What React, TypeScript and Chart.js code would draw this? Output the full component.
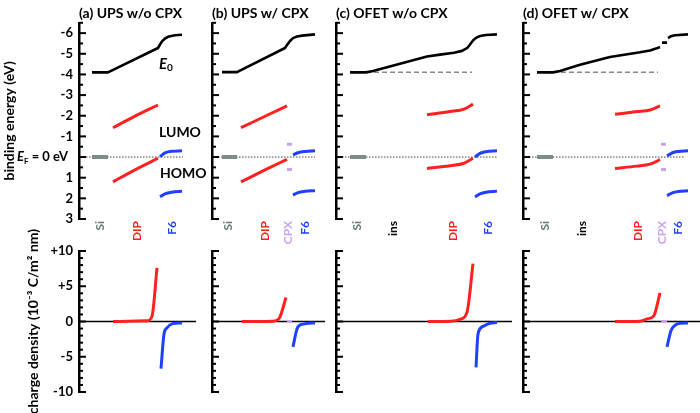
import React, { useEffect, useRef } from 'react';
import { Chart, registerables } from 'chart.js';
Chart.register(...registerables);

type P = [number, number][];

const FONT = 'Lato, "Open Sans", sans-serif';
const RED = '#ff2020';
const BLUE = '#2040ff';
const PURPLE = '#c9a3f0';
const SIGRAY = '#7f8c8c';
const SILABEL = '#667b7b';
const DASHGRAY = '#7f8f8f';

// ---- axis ticks ----
const energyTicks = [-6, -5, -4, -3, -2, -1, 0, 1, 2, 3];
const energyTickLabels = ['-6', '-5', '-4', '-3', '-2', '-1', '', '1', '2', '3'];
const energyMinor = [-6.5, -5.5, -4.5, -3.5, -2.5, -1.5, -0.5, 0.5, 1.5, 2.5];
const chargeTicks = [10, 5, 0, -5, -10];
const chargeTickLabels = ['+10', '+5', '0', '-5', '-10'];
const chargeMinor = [9, 8, 7, 6, 4, 3, 2, 1, -1, -2, -3, -4, -6, -7, -8, -9];

// ---- panel (a) UPS w/o CPX ----
const aLayers = ['Si', 'DIP', 'F6'];
const aLayerPos = [21, 58, 93];
const aSi: P = [[13, 0], [29, 0]];
const aE0: P = [[13, -4.1], [29, -4.1], [79, -5.28], [81, -5.45], [83, -5.6], [86, -5.74], [90, -5.84], [96, -5.9], [103, -5.92]];
const aLumo: P = [[34, -1.42], [56, -1.98], [79, -2.52]];
const aHomo: P = [[34, 1.2], [56, 0.62], [79, 0.06]];
const aF6Lumo: P = [[81, -0.02], [86, -0.2], [93, -0.28], [103, -0.3]];
const aF6Homo: P = [[81, 1.92], [86, 1.78], [93, 1.7], [103, 1.66]];
const aEF: P = [[1, 0], [104, 0]];
const aQDip: P = [[34, 0], [68, 0.1], [73, 0.75], [78, 7.6]];
const aQF6: P = [[82, -6.7], [85, -1.76], [88, -0.9], [93, -0.33], [103, -0.2]];
const aZero: P = [[0, 0], [117, 0]];

// ---- panel (b) UPS w/ CPX ----
const bLayers = ['Si', 'DIP', 'CPX', 'F6'];
const bLayerPos = [16, 53, 76, 93];
const bSi: P = [[10, 0], [25, 0]];
const bE0: P = [[10, -4.11], [25, -4.11], [73, -5.28], [75, -5.42], [78, -5.62], [81, -5.76], [85, -5.84], [90, -5.88], [103, -5.94]];
const bLumo: P = [[29, -1.42], [52, -1.95], [75, -2.48]];
const bHomo: P = [[29, 1.2], [52, 0.65], [75, 0.11]];
const bCpxLumo: P = [[75, -0.62], [80, -0.62]];
const bCpxHomo: P = [[75, 0.6], [80, 0.6]];
const bF6Lumo: P = [[81, -0.1], [86, -0.21], [93, -0.27], [103, -0.3]];
const bF6Homo: P = [[81, 1.84], [86, 1.72], [93, 1.66], [103, 1.63]];
const bEF: P = [[3, 0], [103, 0]];
const bQDip: P = [[30, 0], [61, 0.05], [67, 0.4], [74, 3.4]];
const bQCpx: P = [[75, 0], [80, 0]];
const bQF6: P = [[81, -3.6], [85, -1.05], [90, -0.4], [103, -0.2]];
const bZero: P = [[0, 0], [113, 0]];

// ---- panel (c) OFET w/o CPX ----
const cLayers = ['Si', 'ins', 'DIP', 'F6'];
const cLayerPos = [21, 57, 117, 152];
const cSi: P = [[14, 0], [30, 0]];
const cE0: P = [[14, -4.1], [30, -4.1], [37, -4.17], [64, -4.52], [91, -4.87], [104, -4.96], [118, -5.05], [126, -5.14], [131, -5.27], [134, -5.45], [137, -5.64], [140, -5.77], [144, -5.86], [150, -5.91], [161, -5.94]];
const cVac: P = [[30, -4.1], [136, -4.1]];
const cLumo: P = [[91, -2.05], [114, -2.2], [128, -2.32], [137, -2.56]];
const cHomo: P = [[91, 0.55], [114, 0.42], [128, 0.3], [137, 0.06]];
const cF6Lumo: P = [[139, 0], [144, -0.18], [150, -0.26], [161, -0.3]];
const cF6Homo: P = [[139, 1.93], [144, 1.78], [150, 1.7], [161, 1.65]];
const cEF: P = [[0, 0], [161, 0]];
const cQDip: P = [[92, 0], [115, 0.05], [124, 0.3], [131, 1.3], [137, 8.2]];
const cQF6: P = [[140, -6.5], [142, -1.8], [147, -0.7], [154, -0.25], [161, -0.15]];
const cZero: P = [[0, 0], [176, 0]];

// ---- panel (d) OFET w/ CPX ----
const dLayers = ['Si', 'ins', 'DIP', 'CPX', 'F6'];
const dLayerPos = [22, 59, 115, 139, 155];
const dSi: P = [[14, 0], [30, 0]];
const dE0: P = [[14, -4.1], [30, -4.1], [37, -4.17], [57, -4.47], [87, -4.84], [117, -5.07], [127, -5.16], [133, -5.25], [137, -5.33]];
const dE0Cpx: P = [[139, -5.54], [144, -5.54]];
const dE0F6: P = [[145, -5.76], [148, -5.85], [152, -5.9], [165, -5.94]];
const dVac: P = [[30, -4.1], [135, -4.1]];
const dLumo: P = [[92, -2.07], [114, -2.2], [127, -2.28], [137, -2.48]];
const dHomo: P = [[92, 0.55], [114, 0.44], [127, 0.34], [137, 0.13]];
const dCpxLumo: P = [[138, -0.62], [143, -0.62]];
const dCpxHomo: P = [[138, 0.6], [143, 0.6]];
const dF6Lumo: P = [[144, -0.05], [150, -0.22], [155, -0.27], [165, -0.3]];
const dF6Homo: P = [[144, 1.87], [150, 1.72], [155, 1.67], [165, 1.63]];
const dEF: P = [[0, 0], [162, 0]];
const dQDip: P = [[92, 0], [117, 0.05], [125, 0.4], [131, 0.85], [137, 4.05]];
const dQCpx: P = [[138, 0], [144, 0]];
const dQF6: P = [[144, -3.6], [148, -1.3], [152, -0.55], [157, -0.25], [165, -0.2]];
const dZero: P = [[0, 0], [177, 0]];

// annotation anchors (data coords of panel a)
const e0LabelAt = [80, -4.5];
const lumoLabelAt = [80, -1.21];
const homoLabelAt = [81, 0.78];

const layerColor: Record<string, string> = { Si: SILABEL, DIP: RED, F6: BLUE, CPX: PURPLE, ins: '#000' };

function line(data: P, color: string, width = 3, dash: number[] = [], smooth = true) {
  return {
    data: data.map(([x, y]) => ({ x, y })),
    borderColor: color,
    backgroundColor: color,
    borderWidth: width,
    borderDash: dash,
    pointRadius: 0,
    fill: false,
    tension: 0,
    cubicInterpolationMode: smooth ? 'monotone' : 'default',
    borderCapStyle: 'butt',
    borderJoinStyle: 'round',
  };
}
const e0 = (data: P) => line(data, '#000', 2.6, [], false);

type Seg = { t: string; font: string; dy?: number };
function drawRich(ctx: CanvasRenderingContext2D, segs: Seg[], x: number, y: number, align: 'left' | 'right') {
  let w = 0;
  segs.forEach((s) => { ctx.font = s.font; w += ctx.measureText(s.t).width; });
  let cx = align === 'right' ? x - w : x;
  ctx.textAlign = 'left';
  ctx.textBaseline = 'middle';
  segs.forEach((s) => {
    ctx.font = s.font;
    ctx.fillText(s.t, cx, y + (s.dy || 0));
    cx += ctx.measureText(s.t).width;
  });
}

const innerTicks = (major: number[], minor: number[]) => ({
  id: 'innerTicks',
  afterDraw(chart: any) {
    const { ctx, chartArea, scales } = chart;
    const y = scales.y;
    ctx.save();
    ctx.strokeStyle = '#000';
    ctx.lineWidth = 2;
    const draw = (v: number, len: number) => {
      const py = y.getPixelForValue(v);
      ctx.beginPath();
      ctx.moveTo(chartArea.left, py);
      ctx.lineTo(chartArea.left + len, py);
      ctx.stroke();
    };
    major.forEach((v) => draw(v, 7));
    minor.forEach((v) => draw(v, 4));
    ctx.restore();
  },
});

// side title, x measured from the chart-area left edge (the axis line)
const sideTitle = (id: string, text: string, gapFromAxis: number) => ({
  id,
  afterDraw(chart: any) {
    const { ctx, chartArea } = chart;
    const cx = chartArea.left - gapFromAxis;
    const cy = (chartArea.top + chartArea.bottom) / 2;
    ctx.save();
    ctx.setTransform(1, 0, 0, 1, 0, 0);
    ctx.translate(cx, cy);
    ctx.rotate(-Math.PI / 2);
    ctx.font = `bold 14px ${FONT}`;
    ctx.fillStyle = '#000';
    ctx.textAlign = 'center';
    ctx.textBaseline = 'middle';
    ctx.fillText(text, 0, 0);
    ctx.restore();
  },
});

const annotA = {
  id: 'annotA',
  afterDraw(chart: any) {
    const { ctx, chartArea, scales } = chart;
    const { x, y } = scales;
    ctx.save();
    ctx.fillStyle = '#000';
    drawRich(ctx, [
      { t: 'E', font: `italic bold 15px ${FONT}` },
      { t: '0', font: `bold 10px ${FONT}`, dy: 4 },
    ], x.getPixelForValue(e0LabelAt[0]), y.getPixelForValue(e0LabelAt[1]), 'left');
    drawRich(ctx, [{ t: 'LUMO', font: `bold 14px ${FONT}` }], x.getPixelForValue(lumoLabelAt[0]), y.getPixelForValue(lumoLabelAt[1]), 'left');
    drawRich(ctx, [{ t: 'HOMO', font: `bold 14px ${FONT}` }], x.getPixelForValue(homoLabelAt[0]), y.getPixelForValue(homoLabelAt[1]), 'left');
    drawRich(ctx, [
      { t: 'E', font: `italic bold 13px ${FONT}` },
      { t: 'F', font: `bold 8px ${FONT}`, dy: 4 },
      { t: ' = 0 eV', font: `bold 13px ${FONT}` },
    ], chartArea.left - 11, y.getPixelForValue(0), 'right');
    ctx.restore();
  },
};

type Spec = {
  title: string; left: number; axisW: number; width: number; padR: number; first: boolean;
  layers: string[]; layerPos: number[]; top: any[]; bottom: any[];
};

const specs: Spec[] = [
  {
    title: '(a) UPS w/o CPX', left: 0, axisW: 79, width: 212, padR: 12, first: true,
    layers: aLayers, layerPos: aLayerPos,
    top: [e0(aE0), line(aLumo, RED), line(aHomo, RED), line(aF6Lumo, BLUE), line(aF6Homo, BLUE), line(aSi, SIGRAY, 4), line(aEF, '#444', 1, [1.5, 1.5])],
    bottom: [line(aQDip, RED), line(aQF6, BLUE), line(aZero, '#000', 1.3)],
  },
  {
    title: '(b) UPS w/ CPX', left: 202, axisW: 10, width: 124, padR: 0, first: false,
    layers: bLayers, layerPos: bLayerPos,
    top: [e0(bE0), line(bLumo, RED), line(bHomo, RED), line(bCpxLumo, PURPLE), line(bCpxHomo, PURPLE), line(bF6Lumo, BLUE), line(bF6Homo, BLUE), line(bSi, SIGRAY, 4), line(bEF, '#444', 1, [1.5, 1.5])],
    bottom: [line(bQDip, RED), line(bQF6, BLUE), line(bQCpx, PURPLE, 3), line(bZero, '#000', 1.3)],
  },
  {
    title: '(c) OFET w/o CPX', left: 326, axisW: 10, width: 187, padR: 0, first: false,
    layers: cLayers, layerPos: cLayerPos,
    top: [e0(cE0), line(cLumo, RED), line(cHomo, RED), line(cF6Lumo, BLUE), line(cF6Homo, BLUE), line(cSi, SIGRAY, 4), line(cVac, DASHGRAY, 1.5, [5, 3]), line(cEF, '#444', 1, [1.5, 1.5])],
    bottom: [line(cQDip, RED), line(cQF6, BLUE), line(cZero, '#000', 1.3)],
  },
  {
    title: '(d) OFET w/ CPX', left: 513, axisW: 10, width: 187, padR: 0, first: false,
    layers: dLayers, layerPos: dLayerPos,
    top: [e0(dE0), e0(dE0Cpx), e0(dE0F6), line(dLumo, RED), line(dHomo, RED), line(dCpxLumo, PURPLE), line(dCpxHomo, PURPLE), line(dF6Lumo, BLUE), line(dF6Homo, BLUE), line(dSi, SIGRAY, 4), line(dVac, DASHGRAY, 1.5, [5, 3]), line(dEF, '#444', 1, [1.5, 1.5])],
    bottom: [line(dQDip, RED), line(dQF6, BLUE), line(dQCpx, PURPLE, 3), line(dZero, '#000', 1.3)],
  },
];

const TOP_H = 260;
const BOT_TOP = 215;
const BOT_H = 198;

function topConfig(s: Spec): any {
  const W = s.width - s.axisW - s.padR;
  const plugins: any[] = [innerTicks(energyTicks, energyMinor)];
  if (s.first) plugins.push(annotA, sideTitle('energyTitle', 'binding energy (eV)', 70));
  return {
    type: 'line',
    data: { datasets: s.top },
    options: {
      responsive: false,
      animation: false,
      layout: { padding: { top: 0, left: 0, bottom: 0, right: s.padR } },
      plugins: {
        legend: { display: false },
        tooltip: { enabled: false },
        title: {
          display: true, text: s.title, align: 'start', fullSize: false, color: '#000',
          font: { family: FONT, size: 14, weight: 'bold' }, padding: { top: 5, bottom: 1 },
        },
      },
      scales: {
        x: {
          type: 'linear', min: 0, max: W, position: 'bottom',
          grid: { display: false, drawTicks: false }, border: { display: false },
          afterBuildTicks: (sc: any) => { sc.ticks = s.layerPos.map((v) => ({ value: v })); },
          afterFit: (sc: any) => { sc.height = 41; },
          ticks: {
            autoSkip: false, minRotation: 90, maxRotation: 90, padding: 2,
            font: { family: FONT, size: 12, weight: 'bold' },
            color: (c: any) => layerColor[s.layers[c.index]] || '#000',
            callback: (_v: any, i: number) => s.layers[i],
          },
        },
        y: {
          type: 'linear', reverse: true, min: -6.5, max: 3,
          afterFit: (sc: any) => { sc.width = s.axisW; },
          afterBuildTicks: (sc: any) => { sc.ticks = energyTicks.map((v) => ({ value: v })); },
          grid: { display: false, drawTicks: false },
          border: { display: true, color: '#000', width: 2.5 },
          ticks: {
            display: s.first, padding: 6, color: '#000',
            font: { family: FONT, size: 13, weight: 'bold' },
            callback: (_v: any, i: number) => energyTickLabels[i],
          },
          title: { display: false },
        },
      },
    },
    plugins,
  };
}

function bottomConfig(s: Spec): any {
  const W = s.width - s.axisW - s.padR;
  const plugins: any[] = [innerTicks(chargeTicks, chargeMinor)];
  if (s.first) plugins.push(sideTitle('chargeTitle', 'charge density (10⁻³ C/m² nm)', 46));
  return {
    type: 'line',
    data: { datasets: s.bottom },
    options: {
      responsive: false,
      animation: false,
      layout: { padding: { top: 36, bottom: 21, left: 0, right: s.padR } },
      plugins: { legend: { display: false }, tooltip: { enabled: false }, title: { display: false } },
      scales: {
        x: { type: 'linear', min: 0, max: W, display: false },
        y: {
          type: 'linear', min: -10, max: 10,
          afterFit: (sc: any) => { sc.width = s.axisW; },
          afterBuildTicks: (sc: any) => { sc.ticks = chargeTicks.map((v) => ({ value: v })); },
          grid: { display: false, drawTicks: false },
          border: { display: true, color: '#000', width: 2.5 },
          ticks: {
            display: s.first, padding: 6, color: '#000',
            font: { family: FONT, size: 13, weight: 'bold' },
            callback: (_v: any, i: number) => chargeTickLabels[i],
          },
          title: { display: false },
        },
      },
    },
    plugins,
  };
}

function ChartCanvas({ left, top, width, height, make }: { left: number; top: number; width: number; height: number; make: () => any }) {
  const ref = useRef<HTMLCanvasElement>(null);
  useEffect(() => {
    const chart = new Chart(ref.current as HTMLCanvasElement, make());
    return () => chart.destroy();
  }, []);
  return <canvas ref={ref} width={width} height={height} style={{ position: 'absolute', left, top, width, height }} />;
}

export default function App() {
  return (
    <div style={{ position: 'absolute', left: 0, top: 0, width: 700, height: 413, background: '#fff', overflow: 'hidden' }}>
      {specs.map((s, i) => (
        <ChartCanvas key={'t' + i} left={s.left} top={0} width={s.width} height={TOP_H} make={() => topConfig(s)} />
      ))}
      {specs.map((s, i) => (
        <ChartCanvas key={'b' + i} left={s.left} top={BOT_TOP} width={s.width} height={BOT_H} make={() => bottomConfig(s)} />
      ))}
    </div>
  );
}
